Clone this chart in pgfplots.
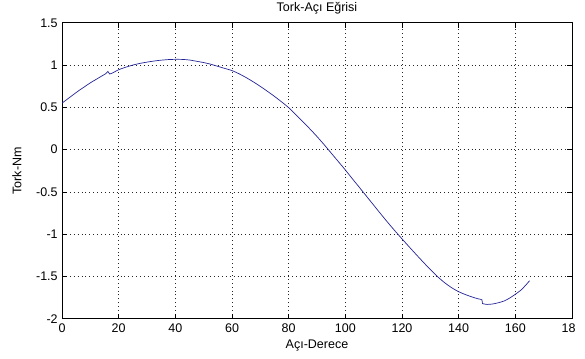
\documentclass[border=0pt]{standalone}
\usepackage{fontspec}
\setmainfont{Liberation Sans}
\usepackage{pgfplots}
\pgfplotsset{compat=1.18}
\definecolor{curve}{RGB}{35,35,150}
\begin{document}
\fontsize{12.5}{14}\selectfont
\begin{tikzpicture}[x=1pt,y=1pt]
\begin{axis}[
  at={(62pt,39.2pt)}, anchor=south west,
  scale only axis, width=510pt, height=296pt,
  xmin=0, xmax=180, ymin=-2, ymax=1.5,
  xtick={0,20,...,180}, ytick={-2,-1.5,...,1.5},
  xticklabels={0,20,40,60,80,100,120,140,160,18\phantom{0}},
  yticklabels={-2,-1.5,-1,-0.5,0,0.5,1,1.5},
  /pgf/number format/assume math mode=true,
  tick label style={font=\fontsize{12.5}{14}\selectfont},
  xticklabel style={yshift=-1pt},
  label style={font=\fontsize{12.5}{14}\selectfont},
  title style={font=\fontsize{12.5}{14}\selectfont, yshift=-2pt},
  grid=major, major grid style={black!85, dash pattern=on 0.9pt off 3pt, line width=0.6pt},
  major tick length=5pt,
  axis line style={black, line width=0.6pt},
  tick style={black, line width=0.6pt},
  title={Tork-Açı Eğrisi},
  xlabel={Açı-Derece}, ylabel={Tork-Nm},
  xlabel style={yshift=2pt},
  ylabel style={yshift=6pt},
]
\addplot[curve, line width=0.7pt, mark=none, smooth, tension=0.4] coordinates {
(0,0.55) (2,0.60) (4,0.65) (6,0.70) (8,0.745) (10,0.79) (12,0.83) (14,0.87)
(15.5,0.90) (16.2,0.925) (16.8,0.895) (18,0.91) (20,0.945) (22.5,0.975)
(25,1.0) (27.5,1.02) (30,1.035) (32.5,1.048) (35,1.058) (37.5,1.065)
(40,1.068) (42.5,1.067) (45,1.06) (47.5,1.045) (50,1.03) (52.5,1.01)
(55,0.985) (57.5,0.96) (60,0.935) (62.5,0.897) (65,0.852) (67.5,0.802)
(70,0.748) (72.5,0.69) (75,0.63) (77.5,0.565) (80,0.497) (82.5,0.415)
(85,0.33) (87.5,0.245) (90,0.155) (92.5,0.06) (94,0.0) (95,-0.04)
(97.5,-0.14) (100,-0.24) (102.5,-0.345) (105,-0.448) (107.5,-0.552)
(110,-0.656) (112.5,-0.76) (115,-0.862) (117.5,-0.96) (120,-1.055)
(122.5,-1.148) (125,-1.24) (127.5,-1.33) (130,-1.418) (132.5,-1.50)
(135,-1.572) (137.5,-1.632) (140,-1.68) (142.5,-1.715) (145,-1.745)
(147,-1.765) (148.2,-1.775) (148.4,-1.82) (149,-1.825) (150,-1.83)
(152,-1.825) (154,-1.81) (156,-1.79) (158,-1.755) (160,-1.71)
(162,-1.66) (164,-1.59) (165,-1.55)
};
\end{axis}
\pgfresetboundingbox
\useasboundingbox (0,0) rectangle (585,358);
\end{tikzpicture}
\end{document}
